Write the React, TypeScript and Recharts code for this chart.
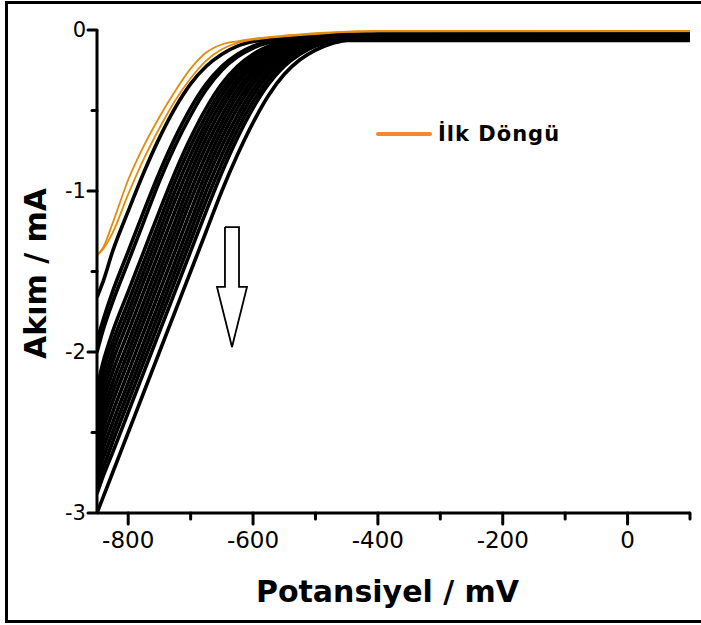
import React from "react";
import { LineChart, Line, XAxis, YAxis, Legend, Label } from "recharts";

// Potential grid (mV)
const POTENTIAL = [-850, -840, -825, -800, -775, -750, -725, -700, -675, -650, -625, -600, -575, -550, -525, -500, -475, -450, -425, -400, 100];

// First cycle (İlk Döngü): forward and return branches (mA)
const FIRST_FWD = [-1.40, -1.35, -1.20, -0.93, -0.72, -0.54, -0.38, -0.24, -0.14, -0.09, -0.07, -0.055, -0.045, -0.035, -0.028, -0.02, -0.015, -0.01, -0.008, -0.006, -0.005];
const FIRST_REV = [-1.40, -1.36, -1.26, -1.02, -0.80, -0.61, -0.44, -0.30, -0.19, -0.12, -0.08, -0.06, -0.048, -0.04, -0.032, -0.025, -0.018, -0.012, -0.009, -0.007, -0.006];

// Following cycles (mA)
const CYCLE_02 = [-1.66, -1.56, -1.375, -1.125, -0.885, -0.67, -0.485, -0.335, -0.225, -0.15, -0.10, -0.072, -0.057, -0.049, -0.044, -0.03, -0.025, -0.025, -0.025, -0.025, -0.025];
const CYCLE_03 = [-1.93, -1.80, -1.625, -1.375, -1.125, -0.885, -0.67, -0.485, -0.335, -0.225, -0.15, -0.10, -0.072, -0.057, -0.049, -0.044, -0.035, -0.035, -0.035, -0.035, -0.035];
const CYCLE_04 = [-2.00, -1.86, -1.69, -1.44, -1.19, -0.94, -0.72, -0.53, -0.37, -0.25, -0.167, -0.112, -0.078, -0.06, -0.05, -0.045, -0.042, -0.04, -0.04, -0.04, -0.04];
const CYCLE_05 = [-2.22, -2.06, -1.875, -1.625, -1.375, -1.125, -0.885, -0.67, -0.485, -0.335, -0.225, -0.15, -0.10, -0.072, -0.057, -0.049, -0.044, -0.045, -0.045, -0.045, -0.045];
const CYCLE_06 = [-2.30, -2.12, -1.94, -1.69, -1.44, -1.19, -0.94, -0.72, -0.53, -0.37, -0.25, -0.167, -0.112, -0.078, -0.06, -0.05, -0.05, -0.05, -0.05, -0.05, -0.05];
const CYCLE_07 = [-2.36, -2.19, -2.0, -1.75, -1.5, -1.25, -1.0, -0.775, -0.575, -0.405, -0.275, -0.185, -0.125, -0.085, -0.063, -0.05, -0.04, -0.035, -0.03, -0.03, -0.03];
const CYCLE_08 = [-2.42, -2.25, -2.06, -1.81, -1.56, -1.31, -1.06, -0.83, -0.62, -0.445, -0.305, -0.205, -0.137, -0.092, -0.067, -0.058, -0.055, -0.055, -0.055, -0.055, -0.055];
const CYCLE_09 = [-2.47, -2.31, -2.125, -1.875, -1.625, -1.375, -1.125, -0.885, -0.67, -0.485, -0.335, -0.225, -0.15, -0.10, -0.072, -0.057, -0.049, -0.044, -0.038, -0.035, -0.035];
const CYCLE_10 = [-2.53, -2.37, -2.19, -1.94, -1.69, -1.44, -1.19, -0.94, -0.72, -0.53, -0.37, -0.25, -0.167, -0.112, -0.078, -0.062, -0.06, -0.06, -0.06, -0.06, -0.06];
const CYCLE_11 = [-2.58, -2.42, -2.25, -2.0, -1.75, -1.5, -1.25, -1.0, -0.775, -0.575, -0.405, -0.275, -0.185, -0.125, -0.085, -0.063, -0.052, -0.046, -0.045, -0.045, -0.045];
const CYCLE_12 = [-2.63, -2.48, -2.31, -2.06, -1.81, -1.56, -1.31, -1.06, -0.83, -0.62, -0.445, -0.305, -0.205, -0.137, -0.092, -0.067, -0.054, -0.045, -0.035, -0.028, -0.025];
const CYCLE_13 = [-2.68, -2.54, -2.375, -2.125, -1.875, -1.625, -1.375, -1.125, -0.885, -0.67, -0.485, -0.335, -0.225, -0.15, -0.10, -0.072, -0.057, -0.05, -0.05, -0.05, -0.05];
const CYCLE_14 = [-2.74, -2.60, -2.44, -2.19, -1.94, -1.69, -1.44, -1.19, -0.94, -0.72, -0.53, -0.37, -0.25, -0.167, -0.112, -0.078, -0.066, -0.065, -0.065, -0.065, -0.065];
const CYCLE_15 = [-2.78, -2.66, -2.5, -2.25, -2.0, -1.75, -1.5, -1.25, -1.0, -0.775, -0.575, -0.405, -0.275, -0.185, -0.125, -0.085, -0.063, -0.052, -0.046, -0.04, -0.04];
const CYCLE_16 = [-2.83, -2.72, -2.56, -2.31, -2.06, -1.81, -1.56, -1.31, -1.06, -0.83, -0.62, -0.445, -0.305, -0.205, -0.137, -0.092, -0.067, -0.054, -0.047, -0.035, -0.03];
const CYCLE_17 = [-2.88, -2.77, -2.625, -2.375, -2.125, -1.875, -1.625, -1.375, -1.125, -0.885, -0.67, -0.485, -0.335, -0.225, -0.15, -0.10, -0.072, -0.058, -0.055, -0.055, -0.055];
const CYCLE_18 = [-3.0, -2.9, -2.75, -2.5, -2.25, -2.0, -1.75, -1.5, -1.25, -1.0, -0.775, -0.575, -0.405, -0.275, -0.185, -0.125, -0.085, -0.063, -0.052, -0.046, -0.045];

const CYCLES = [CYCLE_02, CYCLE_03, CYCLE_04, CYCLE_05, CYCLE_06, CYCLE_07, CYCLE_08, CYCLE_09, CYCLE_10, CYCLE_11, CYCLE_12, CYCLE_13, CYCLE_14, CYCLE_15, CYCLE_16, CYCLE_17, CYCLE_18];

// Downward arrow annotation outline (mV, mA)
const ARROW_X = [-645, -622.5, -622.5, -609.7, -633.7, -657.8, -645, -645];
const ARROW_Y = [-1.224, -1.224, -1.596, -1.596, -1.969, -1.596, -1.596, -1.224];

// Ticks
const X_TICKS = [-800, -700, -600, -500, -400, -300, -200, -100, 0, 100];
const X_MAJOR = [-800, -600, -400, -200, 0];
const Y_TICKS = [0, -0.5, -1, -1.5, -2, -2.5, -3];
const Y_MAJOR = [0, -1, -2, -3];

const LEGEND_LABEL = "İlk Döngü";
const X_TITLE = "Potansiyel / mV";
const Y_TITLE = "Akım / mA";

const rows = POTENTIAL.map((x, i) => {
  const r: Record<string, number> = { x, o1: FIRST_FWD[i], o2: FIRST_REV[i] };
  CYCLES.forEach((c, k) => {
    r["c" + k] = c[i];
  });
  return r;
});

const arrowRows = ARROW_X.map((x, i) => ({ x, a: ARROW_Y[i] }));

const FONT = "'DejaVu Sans', sans-serif";

const XTick = (props: any) => {
  const { x, y, payload } = props;
  const major = X_MAJOR.includes(payload.value);
  return (
    <g>
      <line x1={x} x2={x} y1={y} y2={y + (major ? 11 : 6)} stroke="#000" strokeWidth={3} strokeLinecap="round" />
      {major && (
        <text x={x} y={y + 35} textAnchor="middle" fontSize={23} fontFamily={FONT} fill="#000">
          {String(payload.value)}
        </text>
      )}
    </g>
  );
};

const YTick = (props: any) => {
  const { x, y, payload } = props;
  const major = Y_MAJOR.includes(payload.value);
  return (
    <g>
      <line x1={x} x2={x - (major ? 9 : 5)} y1={y} y2={y} stroke="#000" strokeWidth={3} strokeLinecap="round" />
      {major && (
        <text x={x - 11} y={y} textAnchor="end" dominantBaseline="central" fontSize={21} fontFamily={FONT} fill="#000">
          {String(payload.value)}
        </text>
      )}
    </g>
  );
};

const LegendBox = () => (
  <div style={{ display: "flex", alignItems: "center", fontFamily: FONT }}>
    <svg width={56} height={10} style={{ display: "block" }}>
      <line x1={2} x2={54} y1={5} y2={5} stroke="#F7862E" strokeWidth={4} strokeLinecap="round" />
    </svg>
    <span style={{ marginLeft: 6, fontSize: 21, fontWeight: 700, letterSpacing: 1, color: "#000", lineHeight: "24px" }}>
      {LEGEND_LABEL}
    </span>
  </div>
);

export default function App() {
  return (
    <div style={{ position: "absolute", left: 0, top: 0, width: 701, height: 625, overflow: "hidden", background: "#fff" }}>
      <div
        style={{
          position: "absolute",
          left: 5,
          top: 1,
          width: 696,
          height: 622,
          boxSizing: "border-box",
          borderLeft: "3px solid #000",
          borderTop: "3px solid #000",
          borderBottom: "3px solid #000",
        }}
      />
      <div style={{ position: "absolute", left: 0, top: 0 }}>
        <LineChart width={701} height={625} data={rows} margin={{ top: 30, right: 11, left: 0, bottom: 0 }}>
          <XAxis
            type="number"
            dataKey="x"
            domain={[-850, 100]}
            allowDataOverflow
            ticks={X_TICKS}
            interval={0}
            tickSize={0}
            tickMargin={0}
            tickLine={false}
            tick={<XTick />}
            height={112}
            axisLine={{ stroke: "#000", strokeWidth: 3 }}
          >
            <Label
              content={(p: any) => {
                const vb = p.viewBox;
                return (
                  <text x={vb.x + vb.width / 2 - 6} y={602} textAnchor="middle" fontSize={30} fontWeight={700} fontFamily={FONT} fill="#000">
                    {X_TITLE}
                  </text>
                );
              }}
            />
          </XAxis>
          <YAxis
            type="number"
            domain={[-3, 0]}
            allowDataOverflow
            ticks={Y_TICKS}
            interval={0}
            tickSize={0}
            tickMargin={0}
            tickLine={false}
            tick={<YTick />}
            width={97}
            axisLine={{ stroke: "#000", strokeWidth: 3 }}
          >
            <Label
              content={(p: any) => {
                const vb = p.viewBox;
                const cx = vb.x + 46;
                const cy = vb.y + vb.height / 2 + 2;
                return (
                  <text x={cx} y={cy} transform={`rotate(-90 ${cx} ${cy})`} textAnchor="middle" fontSize={30} fontWeight={700} fontFamily={FONT} fill="#000">
                    {Y_TITLE}
                  </text>
                );
              }}
            />
          </YAxis>
          <Legend
            layout="horizontal"
            verticalAlign="middle"
            align="center"
            content={() => <LegendBox />}
            wrapperStyle={{ left: 376, top: 122, width: 220, height: 26 }}
          />
          {CYCLES.map((_, k) => (
            <Line
              key={"c" + k}
              dataKey={"c" + k}
              type="monotone"
              stroke="#000"
              strokeWidth={3.6}
              dot={false}
              activeDot={false}
              legendType="none"
              isAnimationActive={false}
            />
          ))}
          <Line dataKey="o2" type="monotone" stroke="#E38B0B" strokeWidth={1.8} dot={false} activeDot={false} legendType="none" isAnimationActive={false} />
          <Line dataKey="o1" name={LEGEND_LABEL} type="monotone" stroke="#E38B0B" strokeWidth={1.8} dot={false} activeDot={false} isAnimationActive={false} />
          <Line
            data={arrowRows}
            dataKey="a"
            type="linear"
            stroke="#000"
            strokeWidth={1.8}
            strokeLinejoin="miter"
            fill="none"
            dot={false}
            activeDot={false}
            legendType="none"
            isAnimationActive={false}
          />
        </LineChart>
      </div>
    </div>
  );
}
